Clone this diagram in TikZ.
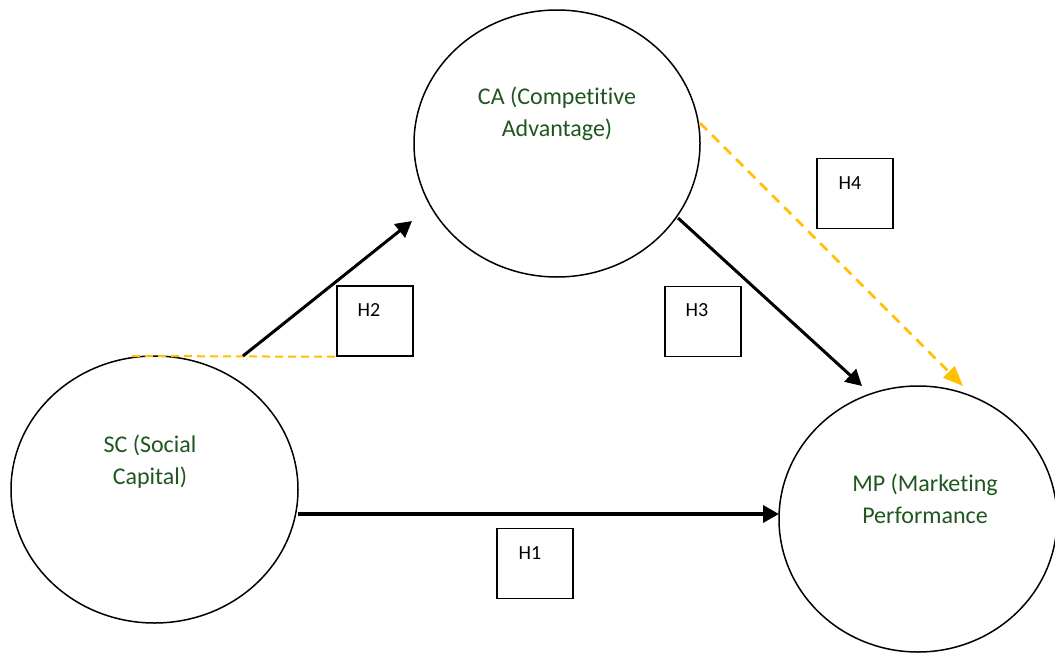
\documentclass[tikz,border=0pt]{standalone}
\usepackage{fontspec}
\setmainfont{Carlito}[Ligatures=NoCommon]
\usetikzlibrary{arrows.meta,shapes.geometric}
\definecolor{lblgreen}{RGB}{32,86,32}
\definecolor{goldline}{RGB}{255,192,0}
\begin{document}
\begin{tikzpicture}[x=1pt,y=-1pt,
  construct/.style={ellipse, draw, line width=1.5pt, inner sep=0pt},
  hypbox/.style={rectangle, draw, line width=1.5pt, minimum width=76pt, minimum height=70pt, inner sep=0pt},
  lbl/.style={font=\fontsize{24}{32}\selectfont, text=lblgreen, align=center, inner sep=0pt},
  hlbl/.style={font=\fontsize{20}{24}\selectfont, anchor=base, inner sep=0pt},
  solidarrow/.style={line width=3pt, -{Triangle[length=16pt,width=17pt]}},
  golddash/.style={goldline, line width=2pt, dash pattern=on 8pt off 5pt},
  goldarrow/.style={goldline, line width=2.5pt, dash pattern=on 10pt off 7pt, -{Triangle[length=20pt,width=16pt]}}]
\useasboundingbox (0,0) rectangle (1055,653);

% constructs
\node[construct, minimum width=287pt, minimum height=267pt] (SC) at (154.5,489.5) {};
\node[construct, minimum width=286pt, minimum height=267pt] (CA) at (557,143.5) {};
\node[construct, minimum width=278pt, minimum height=266pt] (MP) at (918,519) {};

\node[lbl] (SCt) at (150,462) {SC (Social\\Capital)};
\node[lbl] (CAt) at (557,114) {CA (Competitive\\Advantage)};
\node[lbl] (MPt) at (925,499) {MP (Marketing\\Performance};

% hypothesis boxes
\node[hypbox] (H2) at (375,321) {};
\node[hypbox] (H3) at (703,321.5) {};
\node[hypbox] (H4) at (855,193.5) {};
\node[hypbox] (H1) at (535,563.5) {};
\node[hlbl] (H2t) at (369,316) {H2};
\node[hlbl] (H3t) at (697,316) {H3};
\node[hlbl] (H4t) at (850,189) {H4};
\node[hlbl] (H1t) at (530,559) {H1};

% connector end points
\coordinate (dashL) at (132,356);
\coordinate (h2s) at (243,356);
\coordinate (h2e) at (412,221);
\coordinate (h3s) at (678,218);
\coordinate (h3e) at (862,386);
\coordinate (h4s) at (700,123);
\coordinate (h4e) at (963,386);
\coordinate (h1s) at (298,514);
\coordinate (h1e) at (779,514);

\draw[golddash] (dashL) -- (H2.south west);
\draw[goldarrow] (h4s) -- (h4e);
\draw[solidarrow] (h2s) -- (h2e);
\draw[solidarrow] (h3s) -- (h3e);
\draw[solidarrow, line width=3.5pt] (h1s) -- (h1e);
\end{tikzpicture}
\end{document}
